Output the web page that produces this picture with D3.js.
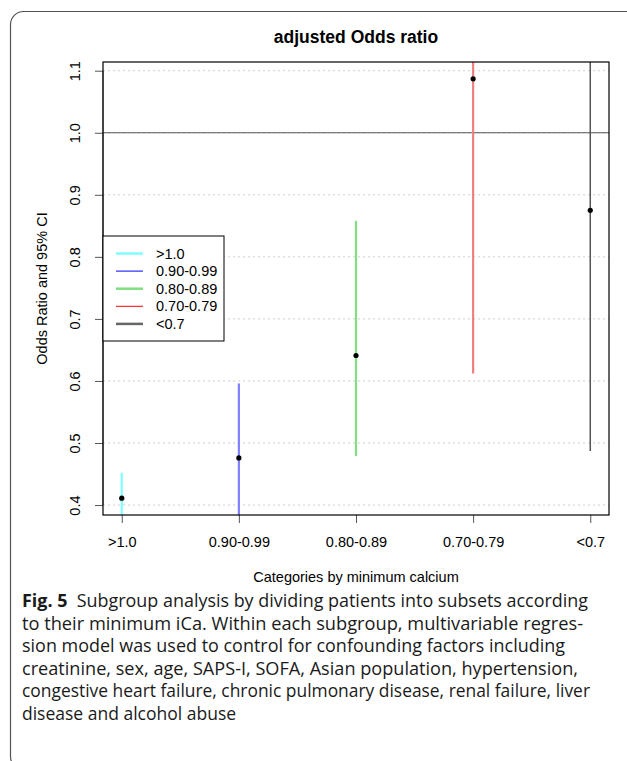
<!DOCTYPE html>
<html>
<head>
<meta charset="utf-8">
<script src="https://cdn.jsdelivr.net/npm/d3@7"></script>
<style>
  html, body { margin: 0; padding: 0; background: #fff; }
  svg { display: block; }
</style>
</head>
<body>
<svg id="chart" width="627" height="761"></svg>
<script>
// ---------- data ----------
const categories = [">1.0", "0.90-0.99", "0.80-0.89", "0.70-0.79", "<0.7"];
const oddsRatio  = [0.411, 0.476, 0.641, 1.087, 0.875];
const ciLower    = [0.374, 0.381, 0.479, 0.612, 0.487];
const ciUpper    = [0.452, 0.596, 0.858, 1.930, 1.570];
const yTicks     = [0.4, 0.5, 0.6, 0.7, 0.8, 0.9, 1.0, 1.1];
const legendLabels = [">1.0", "0.90-0.99", "0.80-0.89", "0.70-0.79", "<0.7"];
const chartTitle = "adjusted Odds ratio";
const xTitle = "Categories by minimum calcium";
const yTitle = "Odds Ratio and 95% CI";
const captionLead = "Fig. 5";
const captionLines = [
  "Subgroup analysis by dividing patients into subsets according",
  "to their minimum iCa. Within each subgroup, multivariable regres-",
  "sion model was used to control for confounding factors including",
  "creatinine, sex, age, SAPS-I, SOFA, Asian population, hypertension,",
  "congestive heart failure, chronic pulmonary disease, renal failure, liver",
  "disease and alcohol abuse"
];

// ---------- styles ----------
const barColors    = ["#80ffff", "#8080ff", "#80e080", "#f08080", "#555555"];
const barWidths    = [2.2, 2.2, 2.2, 2.2, 1.5];
const legendColors = ["#80ffff", "#0000ff", "#80e080", "#ff0000", "#666666"];
const legendWidths = [2.5, 1, 2.5, 1, 2.5];
const captionWidths = [566, 561, 543, 556, 568, null];
const chartFont = "'Liberation Sans', Arial, sans-serif";
const captionFont = "'Open Sans', sans-serif";

const svg = d3.select("#chart");

// plot area
const L = 103, R = 609, T = 62, B = 515;

const n = categories.length;
const xPad = 0.04 * (n - 1);
const x = d3.scaleLinear().domain([0 - xPad, (n - 1) + xPad]).range([L, R]);
const yMin = d3.min(oddsRatio), yMax = d3.max(oddsRatio);
const yPad = 0.04 * (yMax - yMin);
const y = d3.scaleLinear().domain([yMin - yPad, yMax + yPad]).range([B, T]);

// outer frame
svg.append("rect")
  .attr("x", 10.5).attr("y", 11.5).attr("width", 660).attr("height", 758)
  .attr("rx", 13).attr("ry", 13)
  .attr("fill", "none").attr("stroke", "#555").attr("stroke-width", 1.2);

svg.append("defs").append("clipPath").attr("id", "plotclip")
  .append("rect").attr("x", L).attr("y", T).attr("width", R - L).attr("height", B - T);

// grid
svg.append("g").selectAll("line").data(yTicks).join("line")
  .attr("x1", L).attr("x2", R)
  .attr("y1", d => y(d)).attr("y2", d => y(d))
  .attr("stroke", "#cfcfcf").attr("stroke-width", 1)
  .attr("stroke-dasharray", "2,3");

// reference line at 1
svg.append("line")
  .attr("x1", L).attr("x2", R).attr("y1", y(1)).attr("y2", y(1))
  .attr("stroke", "#555").attr("stroke-width", 1);

// CI lines
const ci = svg.append("g").attr("clip-path", "url(#plotclip)");
ci.selectAll("line").data(categories).join("line")
  .attr("x1", (d, i) => x(i)).attr("x2", (d, i) => x(i))
  .attr("y1", (d, i) => y(ciLower[i])).attr("y2", (d, i) => y(ciUpper[i]))
  .attr("stroke", (d, i) => barColors[i])
  .attr("stroke-width", (d, i) => barWidths[i]);

// points
svg.append("g").selectAll("circle").data(oddsRatio).join("circle")
  .attr("cx", (d, i) => x(i)).attr("cy", d => y(d))
  .attr("r", 2.6).attr("fill", "#000");

// y axis
const yAxis = d3.axisLeft(y).tickValues(yTicks).tickFormat(d3.format(".1f")).tickSize(8).tickSizeOuter(0);
const gy = svg.append("g").attr("transform", `translate(${L},0)`).call(yAxis);
gy.select(".domain").attr("d", `M0,${y(yTicks[0])}V${y(yTicks[yTicks.length - 1])}`).attr("stroke", "#555");
gy.selectAll(".tick line").attr("stroke", "#555");
gy.selectAll(".tick text")
  .attr("font-family", chartFont).attr("font-size", 14.5).attr("fill", "#000")
  .attr("x", 0).attr("dy", null)
  .attr("text-anchor", "middle")
  .attr("transform", "translate(-23,0) rotate(-90)");

// x axis
const xAxis = d3.axisBottom(x).tickValues(d3.range(n)).tickFormat(i => categories[i]).tickSize(8).tickSizeOuter(0);
const gx = svg.append("g").attr("transform", `translate(0,${B})`).call(xAxis);
gx.select(".domain").remove();
gx.selectAll(".tick line").attr("stroke", "#555");
gx.selectAll(".tick text")
  .attr("font-family", chartFont).attr("font-size", 14.5).attr("fill", "#000")
  .attr("y", 32).attr("dy", null);

// plot box
svg.append("rect").attr("x", L).attr("y", T).attr("width", R - L).attr("height", B - T)
  .attr("fill", "none").attr("stroke", "#000").attr("stroke-width", 1.2);

// titles
svg.append("text").attr("x", (L + R) / 2).attr("y", 43)
  .attr("text-anchor", "middle").attr("font-family", chartFont)
  .attr("font-weight", "bold").attr("font-size", 17.5).text(chartTitle);
svg.append("text").attr("x", (L + R) / 2).attr("y", 582)
  .attr("text-anchor", "middle").attr("font-family", chartFont)
  .attr("font-size", 14.5).text(xTitle);
svg.append("text")
  .attr("transform", `translate(47,${(T + B) / 2}) rotate(-90)`)
  .attr("text-anchor", "middle").attr("font-family", chartFont)
  .attr("font-size", 14.5).text(yTitle);

// legend
const lg = svg.append("g");
lg.append("rect").attr("x", L).attr("y", 236).attr("width", 121).attr("height", 105)
  .attr("fill", "#fff").attr("stroke", "#000").attr("stroke-width", 1);
legendLabels.forEach((lab, i) => {
  const yy = 253.5 + i * 17.6;
  lg.append("line").attr("x1", 116).attr("x2", 143).attr("y1", yy).attr("y2", yy)
    .attr("stroke", legendColors[i]).attr("stroke-width", legendWidths[i]);
  lg.append("text").attr("x", 156).attr("y", yy + 5)
    .attr("font-family", chartFont).attr("font-size", 14.5).text(lab);
});

// caption
const cap = svg.append("g");
const capBase = 607, capStep = 22.5, capX = 22;
captionLines.forEach((line, i) => {
  const t = cap.append("text").attr("x", capX).attr("y", capBase + i * capStep)
    .attr("font-family", captionFont).attr("font-size", 17.5).attr("fill", "#1a1a1a");
  if (captionWidths[i]) {
    t.attr("textLength", captionWidths[i]).attr("lengthAdjust", "spacingAndGlyphs");
  }
  if (i === 0) {
    t.append("tspan").attr("font-weight", "bold").text(captionLead);
    t.append("tspan").text("\u00a0\u00a0" + line);
  } else {
    t.text(line);
  }
});
</script>
</body>
</html>
